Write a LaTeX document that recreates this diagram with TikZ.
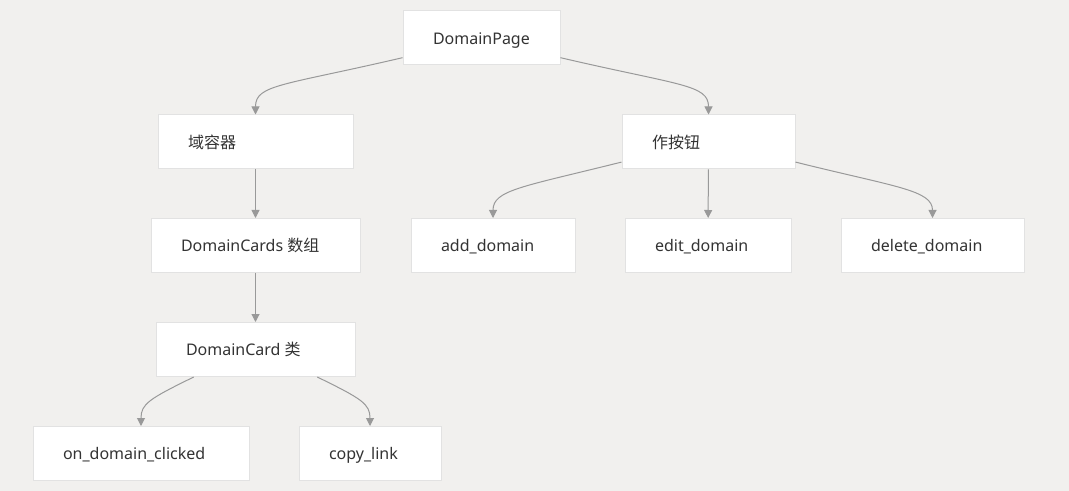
\documentclass[tikz,border=0pt]{standalone}
\usepackage{fontspec}
\setmainfont{Noto Sans}
\newfontfamily\cjk{Noto Sans CJK SC}
\usetikzlibrary{arrows.meta}
\newdimen\pix
\pix=0.75pt
\definecolor{mbg}{RGB}{241, 240, 238}
\definecolor{mline}{RGB}{153, 153, 153}
\definecolor{mborder}{RGB}{226, 226, 226}
\definecolor{mtext}{RGB}{51, 51, 51}
\tikzset{box/.style = {draw = mborder, fill = white, line width = 0.75pt, inner xsep = 30\pix,
    inner ysep = 0, minimum height = 54\pix, text height = 9.5pt, text depth = 0pt,
    text = mtext, font = \fontsize{12}{14}\selectfont}}
\tikzset{link/.style = {draw = mline, line width = 0.75pt, -{Triangle[length = 6pt, width = 6pt]}}}
\newcommand{\lbl}[2]{\makebox[#1\pix][l]{#2}}

\begin{document}
\begin{tikzpicture}[x = 0.75pt, y = -0.75pt]
          \fill [mbg] (0, 0) rectangle (1069, 491);
          \node [box] (page) at (481.5, 38) {\lbl{97}{DomainPage}};
          \node [box] (holder) at (255.5, 142) {\lbl{135}{\cjk 域容器}};
          \node [box] (buttons) at (708.5, 142) {\lbl{113}{\cjk 作按钮}};
          \node [box] (cards) at (255.5, 245.5) {\lbl{149}{DomainCards {\cjk 数组}}};
          \node [box] (card) at (255.5, 349.5) {\lbl{139}{DomainCard {\cjk 类}}};
          \node [box] (clicked) at (141, 453.5) {\lbl{156}{on\_domain\_clicked}};
          \node [box] (copy) at (370, 453.5) {\lbl{82}{copy\_link}};
          \foreach \name/\x/\w/\txt in {add/493/104/add\_domain, edit/708/106/edit\_domain,
              delete/932.5/123/delete\_domain} {
            \node [box] (\name) at (\x, 245.5) {\lbl{\w}{\txt}};
          }
          \draw [link] (page.194) .. controls +(-120, 28) and +(0, -30) .. (holder.north);
          \draw [link] (page.-14) .. controls +(120, 28) and +(0, -30) .. (buttons.north);
          \draw [link] (holder) -- (cards);
          \draw [link] (cards) -- (card);
          \draw [link] (buttons.193) .. controls +(-100, 25) and +(0, -28) .. (add.north);
          \draw [link] (buttons) -- (edit);
          \draw [link] (buttons.-13) .. controls +(100, 25) and +(0, -28) .. (delete.north);
          \draw [link] (card.204) .. controls +(-45, 22) and +(0, -22) .. (clicked.north);
          \draw [link] (card.-24) .. controls +(45, 22) and +(0, -22) .. (copy.north);
        \end{tikzpicture}
\end{document}
